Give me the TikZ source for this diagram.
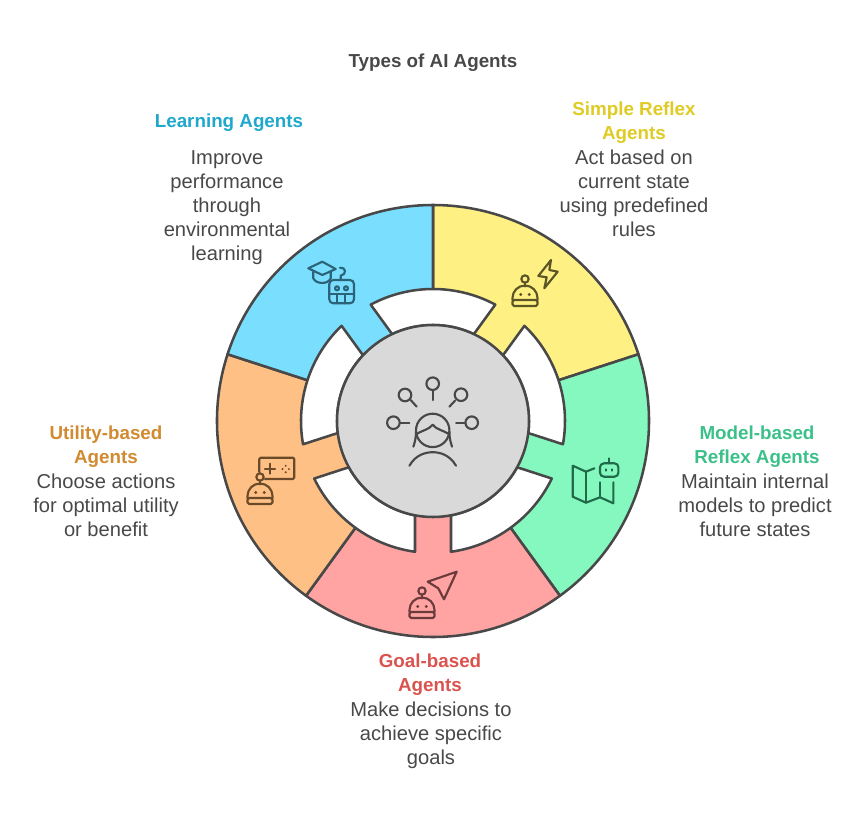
\documentclass[tikz,border=0pt]{standalone}
\usepackage{fontspec}
\setmainfont{Liberation Sans}
\usepackage{xcolor}
\definecolor{inkgray}{HTML}{484848}
\definecolor{fillblue}{HTML}{7ADEFF}
\definecolor{fillyellow}{HTML}{FFF083}
\definecolor{fillgreen}{HTML}{85F8BF}
\definecolor{fillred}{HTML}{FFA3A3}
\definecolor{fillorange}{HTML}{FFC085}
\definecolor{fillgray}{HTML}{D9D9D9}
\definecolor{headblue}{HTML}{1FA8CC}
\definecolor{headyellow}{HTML}{DFCB24}
\definecolor{headgreen}{HTML}{3CC08A}
\definecolor{headred}{HTML}{D9534F}
\definecolor{headorange}{HTML}{D18A30}
\definecolor{iconblue}{HTML}{2B6478}
\definecolor{iconyellow}{HTML}{5A5426}
\definecolor{icongreen}{HTML}{1F6A48}
\definecolor{iconred}{HTML}{6B3A3A}
\definecolor{iconorange}{HTML}{6A4A28}
\tikzset{
  outline/.style={draw=inkgray,line width=1.9pt,line join=round},
  headtext/.style={font=\bfseries\fontsize{14.1}{18}\selectfont,align=center,inner sep=0pt},
  bodytext/.style={text=inkgray,font=\fontsize{15.1}{18}\selectfont,align=center,inner sep=0pt},
  iconline/.style={line width=1.6pt,line cap=round,line join=round},
  pics/bot/.style={code={
    \draw[iconline] (0,18) circle (3.7);
    \draw[iconline] (0,14.3)--(0,10.5);
    \draw[iconline] (-12.5,-3)--(-12.5,-1) arc (180:0:12.5)--(12.5,-3);
    \draw[iconline,rounded corners=1.2pt] (-12.5,-3) rectangle (12.5,-9);
    \fill (-4.3,2.5) circle (1.6);
    \fill (4.3,2.5) circle (1.6);
  }}
}
\begin{document}
\begin{tikzpicture}[x=0.75pt,y=0.75pt]
        \def\Rout{216}
        \def\Rgap{132}
        \def\Rhub{96}
        \useasboundingbox (-433,-397) rectangle (433,421);

        %------------------
        % Segments
        %------------------

        \foreach \mid/\col in {54/fillyellow,-18/fillgreen,-90/fillred,-162/fillorange,126/fillblue}{
          \filldraw[outline,fill=\col] (0,0) -- (\mid+36:\Rout) arc (\mid+36:\mid-36:\Rout) -- cycle;
        }

        %------------------
        % White gaps
        %------------------

        \foreach \mid in {54,-18,-90,-162,126}{
          \filldraw[outline,fill=white]
            (\mid-7.84:\Rgap) arc (\mid-7.84:\mid-64.16:\Rgap)
            -- (\mid-61.2:\Rhub) arc (\mid-61.2:\mid-10.8:\Rhub) -- cycle;
        }

        %------------------
        % Hub
        %------------------

        \filldraw[outline,fill=fillgray] (0,0) circle (\Rhub);

        % person with five probes
        \begin{scope}[shift={(-0.3,-0.7)},draw=inkgray,iconline]
          \foreach \a/\cx/\cy/\sx/\sy/\ex/\ey in {
            t/0/38/0/31.7/0/21.5,
            a/-27.7/26.7/-22/21.7/-16/15,
            b/28.3/27/22.3/21/16.7/15,
            c/-39.3/-1/-32.7/-1/-23.3/-1,
            d/39/-1/32.4/-1/23.4/-1}{
            \draw (\cx,\cy) circle (6.3);
            \draw (\sx,\sy)--(\ex,\ey);
          }
          \draw (0,-8.7) circle (16.7);
          \draw (-19.3,-25) .. controls (-17.5,-19) and (-16.7,-16) .. (-16.7,-10);
          \draw (19.3,-25) .. controls (17.5,-19) and (16.7,-16) .. (16.7,-10);
          \draw (-15.5,-12) .. controls (-9,-8) and (-4,-8) .. (0,-3)
                .. controls (4,-8) and (9,-8) .. (15.5,-12);
          \draw (-23.3,-44) .. controls (-17,-33) and (-7,-30.5) .. (0,-30.5)
                .. controls (7,-30.5) and (17,-33) .. (23.3,-44);
        \end{scope}

        %------------------
        % Segment icons
        %------------------

        % yellow
        \begin{scope}[draw=iconyellow,fill=iconyellow]
          \pic at (92,124) {bot};
          \draw[iconline,fill=none] (118,161)--(105.3,145)--(113.7,143.7)--(111.3,132.7)--(124.7,149.3)--(116.3,151)--cycle;
        \end{scope}

        % green
        \begin{scope}[draw=icongreen,fill=icongreen]
          \begin{scope}[shift={(139.7,1)},iconline]
            \draw (13.3,-51.7)--(0,-45.7)--(0,-76.7)--(13.3,-82.7)--(27.3,-77.3)--(40.7,-83.3)--(40.7,-62.3);
            \draw (13.3,-51.7)--(13.3,-82.7);
            \draw (13.3,-51.7)--(21.7,-48.3);
            \draw (27.3,-62.3)--(27.3,-77.3);
            \draw[rounded corners=3pt] (27.3,-43.3) rectangle (45.7,-56.7);
            \draw (36.3,-43.3)--(36.3,-38.3);
            \draw (33.3,-49.3)--(33.3,-50.7) (39,-49.3)--(39,-50.7);
          \end{scope}
        \end{scope}

        % red
        \begin{scope}[draw=iconred,fill=iconred]
          \pic at (-11,-188) {bot};
          \draw[iconline,fill=none] (23.7,-150.7)--(-5.3,-160.7)--(5.3,-167.3)--(11,-178.3)--cycle;
        \end{scope}

        % orange
        \begin{scope}[draw=iconorange,fill=iconorange]
          \pic at (-173,-74) {bot};
          \draw[iconline,rounded corners=1pt] (-173.7,-51)--(-173.7,-36.7)--(-138.7,-36.7)--(-138.7,-58)--(-168,-58);
          \draw[iconline] (-168,-47.7)--(-158,-47.7) (-163,-42.7)--(-163,-52.7);
          \foreach \dx/\dy in {3.2/0,-3.2/0,0/3.2,0/-3.2}{
            \fill (-147.3+\dx,-48+\dy) circle (1.1);
          }
        \end{scope}

        % blue
        \begin{scope}[draw=iconblue,fill=iconblue]
          \begin{scope}[iconline,fill=none]
            \draw (-124.7,152.7)--(-110.7,159.3)--(-97.3,152)--(-110.7,146)--cycle;
            \draw (-119.7,149.3)--(-119.7,142.7) .. controls (-117,136.5) and (-104.5,136.5) .. (-102.3,142.7)--(-102.3,149);
            \draw (-93,153.3) .. controls (-87,154.5) and (-86,146) .. (-92.3,145.3)--(-92.3,141);
            \draw[rounded corners=3pt] (-103.7,141) rectangle (-79,117.7);
            \draw (-103.7,126.7)--(-79,126.7);
            \draw (-96,126.7)--(-96,117.7) (-88,126.7)--(-88,117.7);
            \draw (-96,132.7) circle (2);
            \draw (-87,132.7) circle (2);
          \end{scope}
        \end{scope}

        %------------------
        % Labels
        %------------------

        \node[headtext,text=inkgray] (title) at (0,358) {Types of AI Agents};

        \node[headtext,text=headblue] (learnhead) at (-204,298) {Learning Agents};
        \node[bodytext] (learnbody) at (-206,213) {Improve\\performance\\through\\environmental\\learning};

        \node[headtext,text=headyellow] (simplehead) at (201,298) {Simple Reflex\\Agents};
        \node[bodytext] (simplebody) at (201,228) {Act based on\\current state\\using predefined\\rules};

        \node[headtext,text=headgreen] (modelhead) at (324,-26) {Model-based\\Reflex Agents};
        \node[bodytext] (modelbody) at (322,-84) {Maintain internal\\models to predict\\future states};

        \node[headtext,text=headorange] (utilityhead) at (-327,-26) {Utility-based\\Agents};
        \node[bodytext] (utilitybody) at (-327,-84) {Choose actions\\for optimal utility\\or benefit};

        \node[headtext,text=headred] (goalhead) at (-3,-254) {Goal-based\\Agents};
        \node[bodytext] (goalbody) at (-2,-314) {Make decisions to\\achieve specific\\goals};
      \end{tikzpicture}
\end{document}
